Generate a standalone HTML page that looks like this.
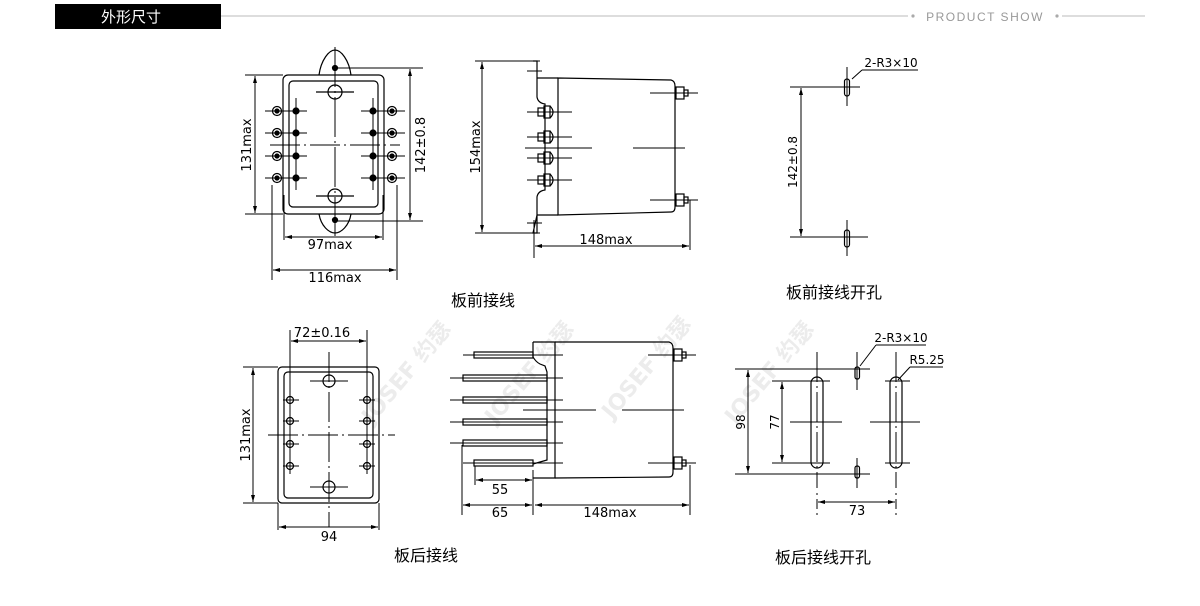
<!DOCTYPE html>
<html><head><meta charset="utf-8"><style>
html,body{margin:0;padding:0;background:#fff;}
body{width:1200px;height:601px;overflow:hidden;position:relative;font-family:"Liberation Sans","Noto Sans CJK SC",sans-serif;}
svg text{font-family:"DejaVu Sans","Liberation Sans","Noto Sans CJK SC",sans-serif;}
</style></head><body>
<svg width="1200" height="601" viewBox="0 0 1200 601" xmlns="http://www.w3.org/2000/svg">
<rect x="55" y="4" width="166" height="25" fill="#000"/>
<text x="131" y="22" fill="#fff" font-size="15" text-anchor="middle" style="font-family:'Noto Sans CJK SC',sans-serif">外形尺寸</text>
<line x1="221" y1="16" x2="908" y2="16" stroke="#bbb" stroke-width="1"/>
<circle cx="913" cy="16" r="1.6" fill="#aaa"/>
<text x="985" y="21" fill="#999" font-size="12" text-anchor="middle" letter-spacing="1.5" style="font-family:'Liberation Sans',sans-serif">PRODUCT SHOW</text>
<circle cx="1057" cy="16" r="1.6" fill="#aaa"/>
<line x1="1062" y1="16" x2="1145" y2="16" stroke="#bbb" stroke-width="1"/>

<g fill="#ececec" font-size="22" font-weight="bold" style="font-family:'Liberation Sans','Noto Sans CJK SC',sans-serif">
<text transform="translate(372,425) rotate(-50)">JOSEF 约瑟</text>
<text transform="translate(495,425) rotate(-50)">JOSEF 约瑟</text>
<text transform="translate(612,420) rotate(-50)">JOSEF 约瑟</text>
<text transform="translate(735,425) rotate(-50)">JOSEF 约瑟</text>
</g>

<g stroke="#000" stroke-width="1.2" fill="none">
<path d="M319,75 C321,60 329,50 335,50 C341,50 349,60 351,75"/>
<path d="M319,214 C321,226 329,233 335,233 C341,233 349,226 351,214"/>
<rect x="283" y="75" width="101" height="139" rx="5"/>
<rect x="289" y="81" width="89" height="126" rx="4"/>
<line x1="335" y1="47" x2="335" y2="236" stroke-dasharray="40,4,2,4" stroke-width="1"/>
<line x1="270" y1="145" x2="400" y2="145" stroke-dasharray="30,4,2,4" stroke-width="1"/>
<circle cx="335" cy="92" r="7"/><line x1="316" y1="92" x2="354" y2="92"/>
<circle cx="335" cy="196" r="7"/><line x1="316" y1="196" x2="354" y2="196"/>
<circle cx="335" cy="68" r="2.5" fill="#000"/><circle cx="335" cy="220" r="2.5" fill="#000"/>
<g stroke-width="1">
<line x1="265" y1="111" x2="307" y2="111"/><line x1="265" y1="133" x2="307" y2="133"/>
<line x1="265" y1="156" x2="307" y2="156"/><line x1="265" y1="178" x2="307" y2="178"/>
<line x1="361" y1="111" x2="405" y2="111"/><line x1="361" y1="133" x2="405" y2="133"/>
<line x1="361" y1="156" x2="405" y2="156"/><line x1="361" y1="178" x2="405" y2="178"/>
<line x1="296" y1="98" x2="296" y2="190"/><line x1="373" y1="98" x2="373" y2="190"/>
</g>
<g fill="#000">
<circle cx="296" cy="111" r="3"/><circle cx="296" cy="133" r="3"/><circle cx="296" cy="156" r="3"/><circle cx="296" cy="178" r="3"/>
<circle cx="373" cy="111" r="3"/><circle cx="373" cy="133" r="3"/><circle cx="373" cy="156" r="3"/><circle cx="373" cy="178" r="3"/>
</g>
<circle cx="277" cy="111" r="4.5"/><circle cx="277" cy="133" r="4.5"/><circle cx="277" cy="156" r="4.5"/><circle cx="277" cy="178" r="4.5"/>
<circle cx="392" cy="111" r="4.5"/><circle cx="392" cy="133" r="4.5"/><circle cx="392" cy="156" r="4.5"/><circle cx="392" cy="178" r="4.5"/>
<g fill="#000"><circle cx="277" cy="111" r="2"/><circle cx="277" cy="133" r="2"/><circle cx="277" cy="156" r="2"/><circle cx="277" cy="178" r="2"/>
<circle cx="392" cy="111" r="2"/><circle cx="392" cy="133" r="2"/><circle cx="392" cy="156" r="2"/><circle cx="392" cy="178" r="2"/></g>
<g stroke-width="1">
<line x1="245" y1="75" x2="283" y2="75"/><line x1="245" y1="214" x2="283" y2="214"/>
<line x1="255" y1="76" x2="255" y2="213"/>
<line x1="335" y1="68" x2="423" y2="68"/><line x1="335" y1="221" x2="423" y2="221"/>
<line x1="410" y1="69" x2="410" y2="220"/>
<line x1="284" y1="195" x2="284" y2="240"/><line x1="383" y1="195" x2="383" y2="240"/>
<line x1="285" y1="237" x2="382" y2="237"/>
<line x1="272" y1="185" x2="272" y2="280"/><line x1="397" y1="185" x2="397" y2="280"/>
<line x1="273" y1="270" x2="396" y2="270"/>
</g>

<g stroke-width="1">
<line x1="475" y1="61" x2="540" y2="61"/><line x1="475" y1="233" x2="540" y2="233"/>
<line x1="482" y1="62" x2="482" y2="232"/>
<line x1="534" y1="220" x2="534" y2="258"/><line x1="690" y1="200" x2="690" y2="250"/>
<line x1="535" y1="246" x2="689" y2="246"/>
<line x1="525" y1="148" x2="592" y2="148"/><line x1="633" y1="148" x2="685" y2="148"/>
</g>
<path d="M533,61 L537,61 L537,78 L558,78 M537,78 L537,97 Q538,103 545,104 L545,190 Q538,191 537,197 L537,215 L558,215 M537,215 L537,233 L533,233 Z"/>
<path d="M558,78 L671,80 Q675,81 675,86 L675,207 Q675,212 671,212 L558,215 Z"/>
<g stroke-width="1">
<line x1="527" y1="71" x2="542" y2="71"/><line x1="527" y1="223" x2="542" y2="223"/>
<line x1="527" y1="112" x2="572" y2="112"/><line x1="527" y1="137" x2="572" y2="137"/>
<line x1="527" y1="158" x2="572" y2="158"/><line x1="527" y1="180" x2="572" y2="180"/>
<line x1="650" y1="93" x2="698" y2="93"/><line x1="650" y1="200" x2="698" y2="200"/>
</g>
<g>
<rect x="538" y="108" width="6" height="8"/><rect x="544" y="106" width="6" height="12"/><path d="M550,106 Q556,112 550,118"/>
<rect x="538" y="133" width="6" height="8"/><rect x="544" y="131" width="6" height="12"/><path d="M550,131 Q556,137 550,143"/>
<rect x="538" y="154" width="6" height="8"/><rect x="544" y="152" width="6" height="12"/><path d="M550,152 Q556,158 550,164"/>
<rect x="538" y="176" width="6" height="8"/><rect x="544" y="174" width="6" height="12"/><path d="M550,174 Q556,180 550,186"/>
<rect x="676" y="87" width="8" height="12"/><rect x="684" y="90" width="4" height="6"/>
<rect x="676" y="194" width="8" height="12"/><rect x="684" y="197" width="4" height="6"/>
</g>

<g stroke-width="1">
<line x1="790" y1="87" x2="860" y2="87"/><line x1="790" y1="237" x2="868" y2="237"/>
<line x1="801" y1="88" x2="801" y2="236"/>
<line x1="847" y1="67" x2="847" y2="106"/><line x1="847" y1="220" x2="847" y2="256"/>
<line x1="852" y1="79" x2="862" y2="70"/><line x1="862" y1="70" x2="918" y2="70"/>
</g>
<rect x="844.5" y="79" width="5" height="17" rx="2.5"/>
<rect x="844.5" y="230" width="5" height="17" rx="2.5"/>

<rect x="278" y="367" width="101" height="136" rx="4"/>
<rect x="284" y="372" width="89" height="126" rx="4"/>
<g stroke-width="1">
<line x1="329" y1="352" x2="329" y2="527" stroke-dasharray="30,4,2,4"/>
<line x1="268" y1="435" x2="395" y2="435" stroke-dasharray="30,4,2,4"/>
<line x1="310" y1="381" x2="348" y2="381"/><line x1="310" y1="487" x2="348" y2="487"/>
<line x1="290" y1="330" x2="290" y2="474"/><line x1="367" y1="330" x2="367" y2="474"/>
<line x1="291" y1="341" x2="366" y2="341"/>
<line x1="243" y1="367" x2="278" y2="367"/><line x1="243" y1="503" x2="278" y2="503"/>
<line x1="253" y1="368" x2="253" y2="502"/>
<line x1="278" y1="503" x2="278" y2="530"/><line x1="379" y1="503" x2="379" y2="530"/>
<line x1="279" y1="527" x2="378" y2="527"/>
<line x1="283" y1="400" x2="299" y2="400"/><line x1="283" y1="421" x2="299" y2="421"/><line x1="283" y1="444" x2="299" y2="444"/><line x1="283" y1="466" x2="299" y2="466"/>
<line x1="359" y1="400" x2="375" y2="400"/><line x1="359" y1="421" x2="375" y2="421"/><line x1="359" y1="444" x2="375" y2="444"/><line x1="359" y1="466" x2="375" y2="466"/>
</g>
<circle cx="329" cy="381" r="6"/><circle cx="329" cy="487" r="6"/>
<circle cx="290" cy="400" r="3.5"/><circle cx="290" cy="421" r="3.5"/><circle cx="290" cy="444" r="3.5"/><circle cx="290" cy="466" r="3.5"/>
<circle cx="367" cy="400" r="3.5"/><circle cx="367" cy="421" r="3.5"/><circle cx="367" cy="444" r="3.5"/><circle cx="367" cy="466" r="3.5"/>

<path d="M533,342 L555,342 L555,478 L533,478 M533,342 L533,357 Q536,362 540,364 L545,366 L547,372 L547,460 L540,462 L533,464"/>
<path d="M555,342 L669,342 Q673,343 673,348 L673,472 Q673,477 669,477 L555,478"/>
<g stroke-width="1">
<line x1="463" y1="355" x2="563" y2="355"/><line x1="450" y1="378" x2="563" y2="378"/>
<line x1="450" y1="400" x2="563" y2="400"/><line x1="450" y1="422" x2="563" y2="422"/>
<line x1="450" y1="443" x2="563" y2="443"/><line x1="463" y1="463" x2="563" y2="463"/>
<line x1="523" y1="410" x2="596" y2="410"/><line x1="622" y1="410" x2="684" y2="410"/>
<line x1="648" y1="355" x2="696" y2="355"/><line x1="648" y1="463" x2="696" y2="463"/>
</g>
<rect x="474" y="352" width="59" height="6"/>
<rect x="463" y="375" width="84" height="6"/><rect x="463" y="397" width="84" height="6"/>
<rect x="463" y="419" width="84" height="6"/><rect x="463" y="440" width="84" height="6"/>
<rect x="474" y="460" width="59" height="6"/>
<rect x="674" y="349" width="8" height="12"/><rect x="682" y="352" width="4" height="6"/>
<rect x="674" y="457" width="8" height="12"/><rect x="682" y="460" width="4" height="6"/>
<g stroke-width="1">
<line x1="462" y1="445" x2="462" y2="515"/><line x1="475" y1="466" x2="475" y2="485"/>
<line x1="533" y1="470" x2="533" y2="515"/><line x1="690" y1="465" x2="690" y2="515"/>
<line x1="476" y1="480" x2="532" y2="480"/>
<line x1="463" y1="505" x2="532" y2="505"/><line x1="535" y1="505" x2="689" y2="505"/>
</g>

<g stroke-width="1">
<line x1="735" y1="369" x2="870" y2="369"/><line x1="735" y1="474" x2="870" y2="474"/>
<line x1="748" y1="370" x2="748" y2="473"/>
<line x1="772" y1="381" x2="830" y2="381"/><line x1="772" y1="463" x2="830" y2="463"/>
<line x1="885" y1="381" x2="910" y2="381"/><line x1="885" y1="463" x2="910" y2="463"/>
<line x1="782" y1="382" x2="782" y2="462"/>
<line x1="790" y1="422" x2="842" y2="422"/><line x1="870" y1="422" x2="920" y2="422"/>
<line x1="817" y1="352" x2="817" y2="488" stroke-dasharray="30,4,2,4"/>
<line x1="896" y1="352" x2="896" y2="488" stroke-dasharray="30,4,2,4"/>
<line x1="817" y1="493" x2="817" y2="515" stroke-dasharray="2,4,10,4"/>
<line x1="896" y1="493" x2="896" y2="515" stroke-dasharray="2,4,10,4"/>
<line x1="818" y1="502" x2="895" y2="502"/>
<line x1="857" y1="352" x2="857" y2="390"/><line x1="857" y1="458" x2="857" y2="488"/>
<line x1="860" y1="366" x2="876" y2="345"/><line x1="876" y1="345" x2="926" y2="345"/>
<line x1="898" y1="380" x2="910" y2="367"/><line x1="910" y1="367" x2="943" y2="367"/>
</g>
<rect x="811" y="377" width="12" height="91" rx="6"/>
<rect x="890" y="377" width="12" height="91" rx="6"/>
<rect x="855" y="367" width="4.5" height="12" rx="2"/>
<rect x="855" y="466" width="4.5" height="12" rx="2"/>
</g>

<g fill="#000">
<path d="M255,76 l-2,7 h4 z"/><path d="M255,213 l-2,-7 h4 z"/>
<path d="M410,69 l-2,7 h4 z"/><path d="M410,220 l-2,-7 h4 z"/>
<path d="M285,237 l7,-2 v4 z"/><path d="M382,237 l-7,-2 v4 z"/>
<path d="M273,270 l7,-2 v4 z"/><path d="M396,270 l-7,-2 v4 z"/>
<path d="M482,62 l-2,7 h4 z"/><path d="M482,232 l-2,-7 h4 z"/>
<path d="M535,246 l7,-2 v4 z"/><path d="M689,246 l-7,-2 v4 z"/>
<path d="M801,88 l-2,7 h4 z"/><path d="M801,236 l-2,-7 h4 z"/>
<path d="M291,341 l7,-2 v4 z"/><path d="M366,341 l-7,-2 v4 z"/>
<path d="M253,368 l-2,7 h4 z"/><path d="M253,502 l-2,-7 h4 z"/>
<path d="M279,527 l7,-2 v4 z"/><path d="M378,527 l-7,-2 v4 z"/>
<path d="M476,480 l7,-2 v4 z"/><path d="M532,480 l-7,-2 v4 z"/>
<path d="M463,505 l7,-2 v4 z"/><path d="M532,505 l-7,-2 v4 z"/>
<path d="M535,505 l7,-2 v4 z"/><path d="M689,505 l-7,-2 v4 z"/>
<path d="M748,370 l-2,7 h4 z"/><path d="M748,473 l-2,-7 h4 z"/>
<path d="M782,382 l-2,7 h4 z"/><path d="M782,462 l-2,-7 h4 z"/>
<path d="M818,502 l7,-2 v4 z"/><path d="M895,502 l-7,-2 v4 z"/>
</g>

<g font-size="13" fill="#000">
<text transform="translate(251,145) rotate(-90)" text-anchor="middle">131max</text>
<text transform="translate(425,145) rotate(-90)" text-anchor="middle">142±0.8</text>
<text x="330" y="249" text-anchor="middle">97max</text>
<text x="335" y="282" text-anchor="middle">116max</text>
<text transform="translate(480,147) rotate(-90)" text-anchor="middle">154max</text>
<text x="606" y="244" text-anchor="middle">148max</text>
<text transform="translate(797,162) rotate(-90)" text-anchor="middle" font-size="12">142±0.8</text>
<text x="891" y="67" text-anchor="middle" font-size="12">2-R3×10</text>
<text x="322" y="337" text-anchor="middle">72±0.16</text>
<text transform="translate(250,435) rotate(-90)" text-anchor="middle">131max</text>
<text x="329" y="541" text-anchor="middle">94</text>
<text x="500" y="494" text-anchor="middle">55</text>
<text x="500" y="517" text-anchor="middle">65</text>
<text x="610" y="517" text-anchor="middle">148max</text>
<text transform="translate(745,422) rotate(-90)" text-anchor="middle" font-size="12">98</text>
<text transform="translate(779,422) rotate(-90)" text-anchor="middle" font-size="12">77</text>
<text x="857" y="515" text-anchor="middle">73</text>
<text x="901" y="342" text-anchor="middle" font-size="12">2-R3×10</text>
<text x="927" y="364" text-anchor="middle" font-size="12">R5.25</text>
</g>
<g font-size="16" fill="#000" text-anchor="middle" style="font-family:'Noto Sans CJK SC',sans-serif">
<text x="483" y="306">板前接线</text>
<text x="834" y="298">板前接线开孔</text>
<text x="426" y="561">板后接线</text>
<text x="823" y="563">板后接线开孔</text>
</g>
</svg>
</body></html>
